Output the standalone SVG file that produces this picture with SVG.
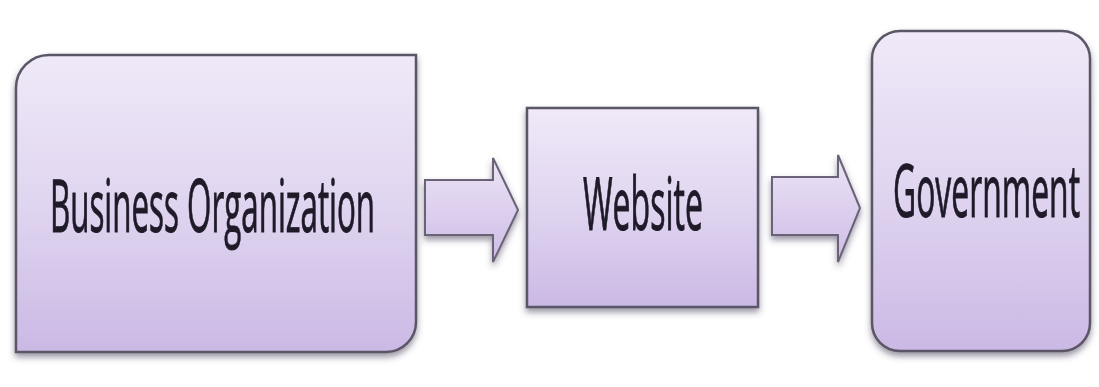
<svg xmlns="http://www.w3.org/2000/svg" width="1099" height="387" viewBox="0 0 1099 387">
  <style>
    .shape { fill: url(#lilac); stroke: #5a5666; stroke-width: 2.5; filter: url(#shadow); }
    .arrow { fill: url(#lilacArrow); stroke: #6a6478; stroke-width: 2; filter: url(#shadow); }
    .label { font-family: "Open Sans", "Liberation Sans", sans-serif; font-size: 74px; fill: #1e1a28; stroke: #1e1a28; stroke-width: 1; text-anchor: middle; }
  </style>
  <defs>
    <linearGradient id="lilac" x1="0" y1="0" x2="0" y2="1">
      <stop offset="0" stop-color="#efe9f8"/>
      <stop offset="0.5" stop-color="#e0d5f0"/>
      <stop offset="1" stop-color="#cbb9e5"/>
    </linearGradient>
    <linearGradient id="lilacArrow" x1="0" y1="0" x2="0" y2="1">
      <stop offset="0" stop-color="#ece4f6"/>
      <stop offset="1" stop-color="#cdbce6"/>
    </linearGradient>
    <filter id="shadow" x="-10%" y="-10%" width="120%" height="125%">
      <feDropShadow dx="0" dy="4" stdDeviation="3" flood-color="#4a4058" flood-opacity="0.55"/>
    </filter>
  </defs>

  <!-- block arrows between the stages -->
  <g id="connectors">
    <path class="arrow" d="M425,180 H493 V158 L518,210 L493,262 V235 H425 Z"/>
    <path class="arrow" d="M772,177 H838 V155 L860,208 L838,262 V235 H772 Z"/>
  </g>

  <!-- labels use a narrowed face: horizontal scale 0.43 -->
  <g id="business">
    <path class="shape" d="M16,88 A33,33 0 0 1 49,55 H416 V322 A30,30 0 0 1 386,352 H16 Z"/>
    <text class="label" transform="translate(212.5,232) scale(0.43,1)" x="0" y="0" textLength="756" lengthAdjust="spacingAndGlyphs">Business Organization</text>
  </g>

  <g id="website">
    <rect class="shape" x="527" y="108" width="231" height="199"/>
    <text class="label" transform="translate(643,230) scale(0.43,1)" x="0" y="0" textLength="279" lengthAdjust="spacingAndGlyphs">Website</text>
  </g>

  <g id="government">
    <rect class="shape" x="872" y="31" width="218" height="320" rx="28" ry="28"/>
    <text class="label" transform="translate(986.5,217) scale(0.43,1)" x="0" y="0" textLength="435" lengthAdjust="spacingAndGlyphs">Government</text>
  </g>
</svg>
